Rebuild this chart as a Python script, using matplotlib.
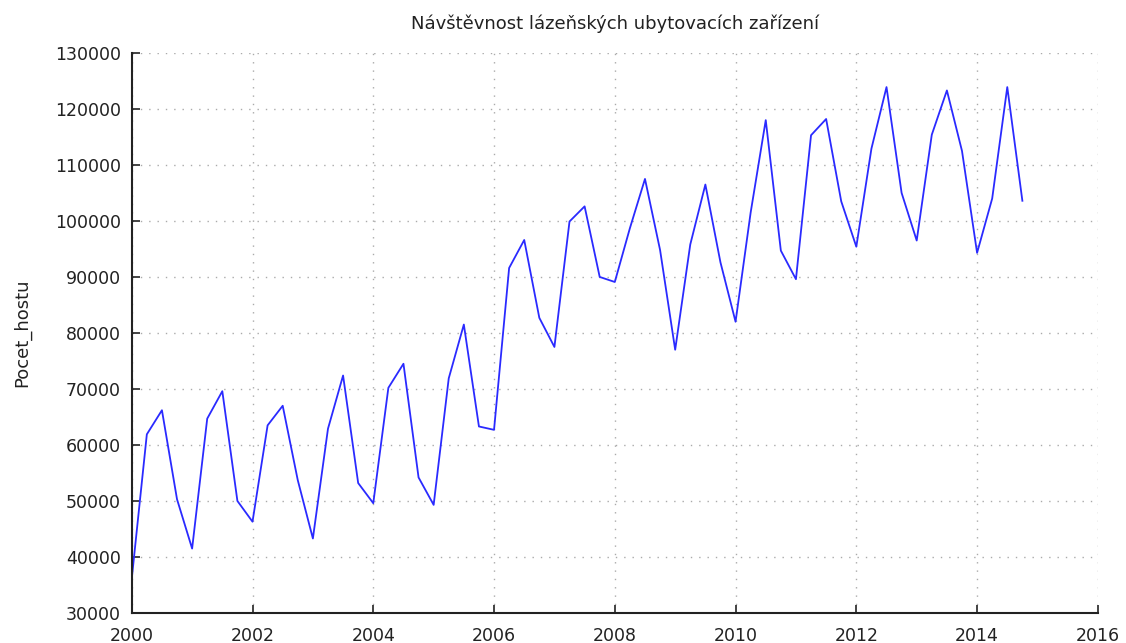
import matplotlib.pyplot as plt
import numpy as np

# quarterly guests, 2000 Q1 .. 2014 Q4
pocet_hostu = [
    36100, 61900, 66200, 50300,
    41500, 64700, 69600, 50000,
    46300, 63500, 67000, 53700,
    43300, 62900, 72400, 53200,
    49600, 70200, 74500, 54200,
    49300, 71900, 81500, 63300,
    62700, 91600, 96600, 82700,
    77500, 99900, 102600, 90000,
    89100, 98700, 107500, 94800,
    77000, 95800, 106500, 92600,
    82000, 101500, 118000, 94700,
    89600, 115300, 118200, 103500,
    95400, 112900, 123900, 105000,
    96500, 115400, 123300, 112500,
    94300, 104000, 123900, 103600,
]
start_year = 2000
cas = start_year + np.arange(len(pocet_hostu)) / 4

xticks = list(range(2000, 2017, 2))
yticks = list(range(30000, 130001, 10000))

fig = plt.figure(figsize=(11.26, 6.43), dpi=100)
ax = fig.add_axes([0.117, 0.0467, 0.858, 0.871])
ax.plot(cas, pocet_hostu, color='#2a2aff', linewidth=1.3)

ax.set_xlim(2000, 2016)
ax.set_ylim(30000, 130000)
ax.set_xticks(xticks)
ax.set_yticks(yticks)
ax.tick_params(direction='in', length=6, width=1.2, labelsize=12.5, colors='#222222')
ax.tick_params(axis='y', pad=8)
ax.tick_params(axis='x', pad=10)
ax.grid(True, linestyle=(0, (1, 5)), color='#aaaaaa', linewidth=1)
for s in ['top', 'right']:
    ax.spines[s].set_visible(False)
for s in ['left', 'bottom']:
    ax.spines[s].set_linewidth(1.5)
    ax.spines[s].set_color('#222222')

ax.set_ylabel('Pocet_hostu', fontsize=13, labelpad=17, color='#222222')
ax.set_title('Návštěvnost lázeňských ubytovacích zařízení', fontsize=13,
             pad=17, color='#222222')

plt.savefig('out.png', dpi=100)
